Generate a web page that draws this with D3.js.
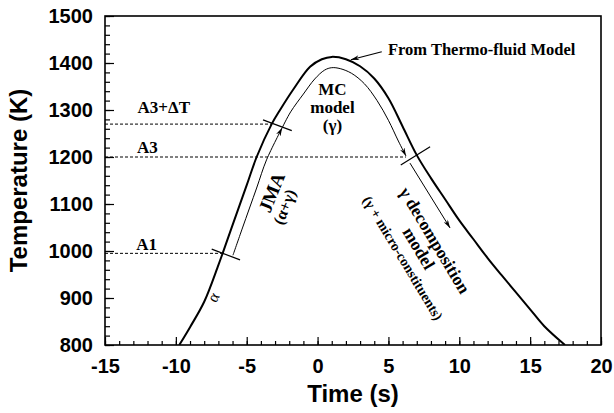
<!DOCTYPE html>
<html>
<head>
<meta charset="utf-8">
<script src="https://cdn.jsdelivr.net/npm/d3@7"></script>
<style>
  body { margin: 0; background: #fff; }
</style>
</head>
<body>
<script>
// tick values
var xTicks = [-15, -10, -5, 0, 5, 10, 15, 20];
var yTicks = [800, 900, 1000, 1100, 1200, 1300, 1400, 1500];

// thermo-fluid model curve (outer, thick)
var thermoTime = [-9.76, -9, -8, -7, -6.7, -6, -5, -4.3, -3.24, -2.65, -1.73, -0.53, 0.3, 1.0, 2.0, 3.0, 4.0, 5.0, 6.0, 7.0, 8.0, 9.0, 10.0, 11.0, 12.0, 13.0, 14.0, 15.0, 16.0, 17.46];
var thermoTemp = [800, 838, 892, 970, 995, 1055, 1140, 1200, 1270, 1300, 1343, 1392, 1408, 1413, 1408, 1393, 1367, 1325, 1265, 1204, 1155, 1110, 1065, 1025, 985, 948, 912, 876, 840, 800];

// JMA segment (inner line, going up)
var jmaTime = [-5.97, -5.3, -4.3, -3.6, -2.5];
var jmaTemp = [991, 1049, 1134, 1194, 1262];

// MC model segment (inner line over the peak)
var mcTime = [-2.5, -1.9, -1.0, -0.2, 0.5, 1.0, 1.6, 2.4, 3.3, 4.2, 5.0, 5.7, 6.24];
var mcTemp = [1262, 1296, 1334, 1366, 1385, 1390, 1388, 1378, 1356, 1320, 1278, 1234, 1202];

// gamma decomposition arrow
var decompTime = [6.52, 9.35];
var decompTemp = [1187, 1049];

// critical temperatures
var levelNames = ['A1', 'A3', 'A3+\u0394T'];
var levelTemp = [995, 1200, 1270];
var levelEnd = [-6.7, 6.24, -3.24];

// short cross marks on the curve [t1, T1, t2, T2]
var crossMarks = [
  [-7.47, 1004, -5.47, 981],
  [-3.85, 1279, -1.82, 1256],
  [7.94, 1222, 5.87, 1183]
];

var margin = {top: 16, right: 13, bottom: 68, left: 105},
    width = 614 - margin.left - margin.right,
    height = 413 - margin.top - margin.bottom;

var serif = '"Liberation Serif", "Times New Roman", serif';
var sans = '"Liberation Sans", Arial, sans-serif';

var svg = d3.select('body').append('svg')
    .attr('width', 614)
    .attr('height', 413)
    .style('background', '#fff');

var g = svg.append('g')
    .attr('transform', 'translate(' + margin.left + ',' + margin.top + ')');

var x = d3.scaleLinear().domain([-15, 20]).range([0, width]);
var y = d3.scaleLinear().domain([800, 1500]).range([height, 0]);

svg.append('defs').append('clipPath').attr('id', 'plot')
  .append('rect').attr('width', width).attr('height', height);

var marker = svg.select('defs').append('marker')
    .attr('id', 'arrow')
    .attr('viewBox', '0 0 10 6')
    .attr('refX', 10).attr('refY', 3)
    .attr('markerWidth', 9).attr('markerHeight', 5)
    .attr('markerUnits', 'userSpaceOnUse')
    .attr('orient', 'auto');
marker.append('path').attr('d', 'M0,0 L10,3 L0,6 L3,3 Z').attr('fill', '#000');

// minor ticks
g.append('g')
  .attr('transform', 'translate(0,' + height + ')')
  .call(d3.axisBottom(x).tickValues(d3.range(-15, 21, 1)).tickSize(-4).tickFormat(''))
  .call(function(s){ s.select('.domain').remove(); });

g.append('g')
  .call(d3.axisLeft(y).tickValues(d3.range(800, 1501, 20)).tickSize(-5).tickFormat(''))
  .call(function(s){ s.select('.domain').remove(); });

// major ticks + labels
var xAxis = g.append('g')
  .attr('transform', 'translate(0,' + height + ')')
  .call(d3.axisBottom(x).tickValues(xTicks).tickSize(-8).tickPadding(14)
        .tickFormat(function(d){ return String(d); }));
xAxis.select('.domain').remove();

var yAxis = g.append('g')
  .call(d3.axisLeft(y).tickValues(yTicks).tickSize(-9).tickPadding(12)
        .tickFormat(function(d){ return String(d); }));
yAxis.select('.domain').remove();

g.selectAll('.tick line').attr('stroke', '#000').attr('stroke-width', 1.2);
g.selectAll('.tick text')
  .attr('font-family', sans)
  .attr('font-weight', 'bold')
  .attr('font-size', 20)
  .attr('fill', '#000');

// frame
g.append('rect')
  .attr('width', width).attr('height', height)
  .attr('fill', 'none').attr('stroke', '#000').attr('stroke-width', 1.6);

// axis titles
svg.append('text')
  .text('Time (s)')
  .attr('x', margin.left + width / 2)
  .attr('y', 402)
  .attr('text-anchor', 'middle')
  .attr('font-family', sans).attr('font-weight', 'bold').attr('font-size', 24);

svg.append('text')
  .text('Temperature (K)')
  .attr('transform', 'translate(27,' + (margin.top + height / 2) + ') rotate(-90)')
  .attr('text-anchor', 'middle')
  .attr('font-family', sans).attr('font-weight', 'bold').attr('font-size', 24);

// dashed levels
g.selectAll('.level')
  .data(levelTemp).enter().append('line')
  .attr('x1', x(-15))
  .attr('x2', function(d, i){ return x(levelEnd[i]); })
  .attr('y1', function(d){ return y(d); })
  .attr('y2', function(d){ return y(d); })
  .attr('stroke', '#000').attr('stroke-width', 1)
  .attr('stroke-dasharray', '3,2');

var levelLabelPos = [[-12.8, 1002], [-12.75, 1208], [-12.7, 1294]];
g.selectAll('.levellabel')
  .data(levelNames).enter().append('text')
  .text(function(d){ return d; })
  .attr('x', function(d, i){ return x(levelLabelPos[i][0]); })
  .attr('y', function(d, i){ return y(levelLabelPos[i][1]); })
  .attr('font-family', serif).attr('font-weight', 'bold').attr('font-size', 17);

var line = d3.line()
  .x(function(d){ return x(d[0]); })
  .y(function(d){ return y(d[1]); })
  .curve(d3.curveCatmullRom.alpha(0.5));

function pairs(a, b){ return a.map(function(v, i){ return [v, b[i]]; }); }

var plot = g.append('g').attr('clip-path', 'url(#plot)');

plot.append('path')
  .datum(pairs(thermoTime, thermoTemp))
  .attr('d', line)
  .attr('fill', 'none').attr('stroke', '#000').attr('stroke-width', 2);

plot.append('path')
  .datum(pairs(jmaTime, jmaTemp))
  .attr('d', line)
  .attr('fill', 'none').attr('stroke', '#000').attr('stroke-width', 1)
  .attr('marker-end', 'url(#arrow)');

plot.append('path')
  .datum(pairs(mcTime, mcTemp))
  .attr('d', line)
  .attr('fill', 'none').attr('stroke', '#000').attr('stroke-width', 1)
  .attr('marker-end', 'url(#arrow)');

plot.append('path')
  .datum(pairs(decompTime, decompTemp))
  .attr('d', line)
  .attr('fill', 'none').attr('stroke', '#000').attr('stroke-width', 1)
  .attr('marker-end', 'url(#arrow)');

plot.selectAll('.cross')
  .data(crossMarks).enter().append('line')
  .attr('x1', function(d){ return x(d[0]); })
  .attr('y1', function(d){ return y(d[1]); })
  .attr('x2', function(d){ return x(d[2]); })
  .attr('y2', function(d){ return y(d[3]); })
  .attr('stroke', '#000').attr('stroke-width', 1.2);

// "From Thermo-fluid Model" pointer
g.append('line')
  .attr('x1', x(4.53)).attr('y1', y(1424))
  .attr('x2', x(2.35)).attr('y2', y(1407))
  .attr('stroke', '#000').attr('stroke-width', 1.2)
  .attr('marker-end', 'url(#arrow)');

g.append('text')
  .text('From Thermo-fluid Model')
  .attr('x', x(4.97)).attr('y', y(1417))
  .attr('font-family', serif).attr('font-weight', 'bold').attr('font-size', 16.5);

// MC model label
var mcLines = ['MC', 'model', '(\u03b3)'];
g.selectAll('.mc')
  .data(mcLines).enter().append('text')
  .text(function(d){ return d; })
  .attr('x', x(1.05))
  .attr('y', function(d, i){ return y(1332) + i * 18; })
  .attr('text-anchor', 'middle')
  .attr('font-family', serif).attr('font-weight', 'bold').attr('font-size', 17);

// rotated labels: [text, t, T, angle, size, bold]
var rotLabels = [
  ['\u03b1', -7.38, 902, -62, 16, false],
  ['JMA', -3.25, 1125, -68, 19, true],
  ['(\u03b1+\u03b3)', -2.35, 1094, -68, 16, true],
  ['\u03b3 decomposition', 8.29, 1023, 59, 17.5, true],
  ['model', 7.16, 1006, 59, 17.5, true],
  ['(\u03b3 + micro-constituents)', 6.03, 985, 59, 14, true]
];

g.selectAll('.rot')
  .data(rotLabels).enter().append('text')
  .text(function(d){ return d[0]; })
  .attr('transform', function(d){ return 'translate(' + x(d[1]) + ',' + y(d[2]) + ') rotate(' + d[3] + ')'; })
  .attr('dy', '0.35em')
  .attr('text-anchor', 'middle')
  .attr('font-family', serif)
  .attr('font-weight', function(d){ return d[5] ? 'bold' : 'normal'; })
  .attr('font-size', function(d){ return d[4]; });
</script>
</body>
</html>
